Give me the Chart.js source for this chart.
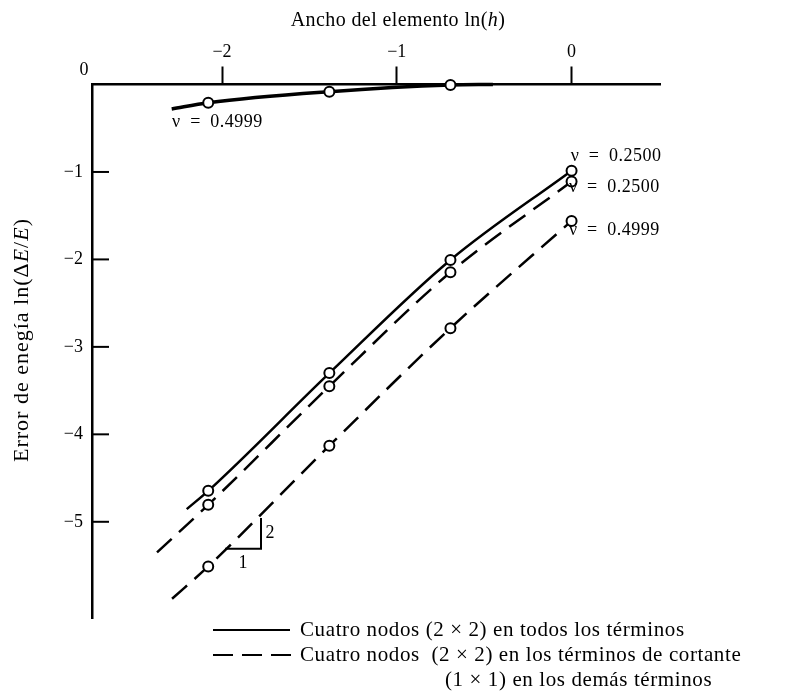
<!DOCTYPE html>
<html lang="es">
<head>
<meta charset="utf-8">
<title>Error de energía vs ancho del elemento</title>
<script src="https://cdn.jsdelivr.net/npm/chart.js@4.4.1/dist/chart.umd.min.js"></script>
<style>
  html, body { margin: 0; padding: 0; background: #fff; }
  #grafico { display: block; }
</style>
</head>
<body>
<canvas id="grafico" width="794" height="694"></canvas>
<script>
// ─── Datos ───────────────────────────────────────────────────────────────────
// Eje x: ln(h) para h = 1/8, 1/4, 1/2, 1 (más los extremos de cada trazo)
const X_TICKS = [-2, -1, 0];
const Y_TICKS = [0, -1, -2, -3, -4, -5];

// ν = 0.4999, cuatro nodos en todos los términos (trazo grueso, arriba)
const X_SOL_4999 = [-2.288, -2.079, -1.386, -0.693, -0.45];
const Y_SOL_4999 = [-0.28, -0.208, -0.082, -0.006, 0];

// ν = 0.2500, cuatro nodos en todos los términos (continua)
const X_SOL_2500 = [-2.202, -2.079, -1.386, -0.693, 0];
const Y_SOL_2500 = [-4.855, -4.646, -3.30, -2.006, -0.985];

// ν = 0.2500, integración reducida (discontinua)
const X_DIS_2500 = [-2.372, -2.079, -1.386, -0.693, 0];
const Y_DIS_2500 = [-5.35, -4.806, -3.45, -2.147, -1.11];

// ν = 0.4999, integración reducida (discontinua)
const X_DIS_4999 = [-2.286, -2.079, -1.386, -0.693, 0];
const Y_DIS_4999 = [-5.88, -5.51, -4.13, -2.786, -1.56];

// Marcador en cada punto medido, ninguno en los extremos del trazo
const MARCA_4999_SUP = [0, 5, 5, 5, 0];
const MARCA_RESTO    = [0, 5, 5, 5, 5];

// ─── Estilo ──────────────────────────────────────────────────────────────────
const SERIF = '"Liberation Serif", "DejaVu Serif", serif';
const NEGRO = '#000';
const X_MIN = -2.744, X_MAX = 0.506;
const Y_MIN = -6.1,   Y_MAX = 0;

const fmt = v => (v === 0 ? '0' : '\u2212' + Math.abs(v));
const pares = (xs, ys) => xs.map((x, i) => ({ x, y: ys[i] }));

function serie(xs, ys, radios, ancho, guion) {
  return {
    data: pares(xs, ys),
    borderColor: NEGRO,
    borderWidth: ancho,
    borderDash: guion,
    cubicInterpolationMode: 'monotone',
    pointRadius: radios,
    pointBackgroundColor: '#fff',
    pointBorderColor: NEGRO,
    pointBorderWidth: 2,
    clip: false,
    fill: false,
  };
}

function espaciado(ctx, px) {
  if ('letterSpacing' in ctx) ctx.letterSpacing = px + 'px';
}

// Texto con partes en cursiva: [[texto, cursiva], ...]
function textoMixto(ctx, partes, x, y, size, align) {
  const fuente = it => `${it ? 'italic ' : ''}${size}px ${SERIF}`;
  let w = 0;
  partes.forEach(([t, it]) => { ctx.font = fuente(it); w += ctx.measureText(t).width; });
  let cx = align === 'center' ? x - w / 2 : x;
  ctx.textAlign = 'left';
  ctx.textBaseline = 'middle';
  partes.forEach(([t, it]) => {
    ctx.font = fuente(it);
    ctx.fillText(t, cx, y);
    cx += ctx.measureText(t).width;
  });
}

// ─── Anotaciones: títulos, ν, triángulo de pendiente y leyenda ───────────────
const decoracion = {
  id: 'decoracion',
  afterDraw(chart) {
    const { ctx, chartArea: area, scales: { x, y } } = chart;
    ctx.save();
    ctx.fillStyle = NEGRO;
    ctx.strokeStyle = NEGRO;

    // Marcas del eje y hacia adentro
    ctx.lineWidth = 2;
    Y_TICKS.filter(v => v !== 0).forEach(v => {
      const py = y.getPixelForValue(v);
      ctx.beginPath();
      ctx.moveTo(area.left, py);
      ctx.lineTo(area.left + 17, py);
      ctx.stroke();
    });

    // "0" del eje y, en la esquina
    ctx.font = `18px ${SERIF}`;
    ctx.textAlign = 'center';
    ctx.textBaseline = 'middle';
    ctx.fillText('0', area.left - 8, y.getPixelForValue(0) - 14);

    // Título del eje x (arriba)
    espaciado(ctx, 0.4);
    textoMixto(ctx, [['Ancho del elemento ln(', false], ['h', true], [')', false]],
      398, 21, 20, 'center');

    // Título del eje y (vertical)
    espaciado(ctx, 1);
    ctx.save();
    ctx.translate(22, 340);
    ctx.rotate(-Math.PI / 2);
    textoMixto(ctx, [['Error de enegía ln(\u0394', false], ['E', true], ['/', false], ['E', true], [')', false]],
      0, 0, 22, 'center');
    ctx.restore();

    // Etiquetas ν junto a cada curva
    const etiquetas = [
      ['\u03bd = 0.4999', -2.286, -0.43],
      ['\u03bd = 0.2500', -0.005, -0.82],
      ['\u03bd = 0.2500', -0.015, -1.17],
      ['\u03bd = 0.4999', -0.015, -1.67],
    ];
    ctx.font = `18px ${SERIF}`;
    espaciado(ctx, 0.5);
    ctx.textAlign = 'left';
    ctx.textBaseline = 'middle';
    etiquetas.forEach(([t, vx, vy]) => {
      ctx.fillText(t.replace(/ /g, '\u2002'), x.getPixelForValue(vx), y.getPixelForValue(vy));
    });
    espaciado(ctx, 0);

    // Triángulo de pendiente 1:2
    const x0 = x.getPixelForValue(-1.983), x1 = x.getPixelForValue(-1.777);
    const y0 = y.getPixelForValue(-5.309), y1 = y.getPixelForValue(-4.958);
    ctx.lineWidth = 2;
    ctx.beginPath();
    ctx.moveTo(x0, y0);
    ctx.lineTo(x1, y0);
    ctx.lineTo(x1, y1);
    ctx.stroke();
    ctx.font = `18px ${SERIF}`;
    ctx.textAlign = 'center';
    ctx.fillText('1', (x0 + x1) / 2, y0 + 14);
    ctx.fillText('2', x1 + 9, (y0 + y1) / 2);

    // Leyenda
    const lx0 = 213, lx1 = 290, tx = 300;
    ctx.lineWidth = 2;
    ctx.beginPath();
    ctx.moveTo(lx0, 630); ctx.lineTo(lx1, 630);
    ctx.stroke();
    ctx.setLineDash([20, 9]);
    ctx.beginPath();
    ctx.moveTo(lx0, 655); ctx.lineTo(lx1 + 1, 655);
    ctx.stroke();
    ctx.setLineDash([]);
    ctx.font = `21px ${SERIF}`;
    espaciado(ctx, 0.6);
    ctx.textAlign = 'left';
    ctx.textBaseline = 'middle';
    ctx.fillText('Cuatro nodos (2 \u00d7 2) en todos los términos', tx, 630);
    ctx.fillText('Cuatro nodos  (2 \u00d7 2) en los términos de cortante', tx, 655);
    ctx.fillText('(1 \u00d7 1) en los demás términos', 445, 680);

    ctx.restore();
  },
};

// ─── Gráfico ─────────────────────────────────────────────────────────────────
new Chart(document.getElementById('grafico').getContext('2d'), {
  type: 'line',
  data: {
    datasets: [
      serie(X_SOL_4999, Y_SOL_4999, MARCA_4999_SUP, 3.5, []),
      serie(X_SOL_2500, Y_SOL_2500, MARCA_RESTO, 2.5, []),
      serie(X_DIS_2500, Y_DIS_2500, MARCA_RESTO, 2.5, [20, 10]),
      serie(X_DIS_4999, Y_DIS_4999, MARCA_RESTO, 2.5, [20, 10]),
    ],
  },
  options: {
    responsive: false,
    animation: false,
    devicePixelRatio: 1,
    layout: { padding: { left: 0, top: 0, right: 794 - 660, bottom: 694 - 618 } },
    plugins: { legend: { display: false }, tooltip: { enabled: false } },
    scales: {
      x: {
        type: 'linear',
        position: 'top',
        min: X_MIN,
        max: X_MAX,
        afterFit: s => { s.height = 84.5; },
        afterBuildTicks: s => { s.ticks = X_TICKS.map(value => ({ value })); },
        grid: { display: true, drawOnChartArea: false, drawTicks: true, tickLength: 18, tickWidth: 2, tickColor: NEGRO },
        border: { display: true, color: NEGRO, width: 2.5 },
        ticks: { color: NEGRO, font: { family: SERIF, size: 18 }, padding: 3, maxRotation: 0, callback: fmt },
      },
      y: {
        type: 'linear',
        position: 'left',
        min: Y_MIN,
        max: Y_MAX,
        afterFit: s => { s.width = 92; },
        afterBuildTicks: s => { s.ticks = Y_TICKS.map(value => ({ value })); },
        grid: { display: true, drawOnChartArea: false, drawTicks: false },
        border: { display: true, color: NEGRO, width: 2.5 },
        ticks: { color: NEGRO, font: { family: SERIF, size: 18 }, padding: 9, callback: v => (v === 0 ? '' : fmt(v)) },
      },
    },
  },
  plugins: [decoracion],
});
</script>
</body>
</html>
